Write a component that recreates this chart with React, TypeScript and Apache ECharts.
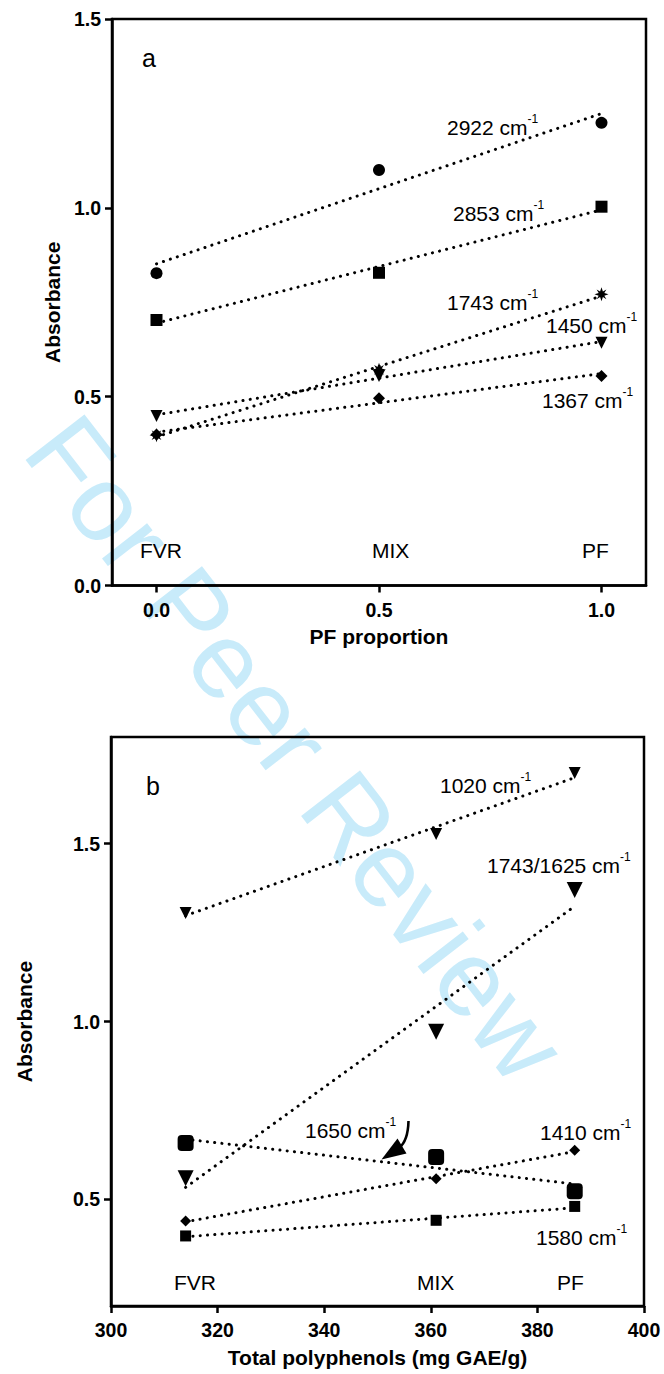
import React, { useEffect, useRef } from "react";
import * as echarts from "echarts";

// ---------- data (panel a) ----------
const pfProportion = [0, 0.5, 1.0];
const abs2922 = [0.827, 1.1, 1.225];
const abs2853 = [0.703, 0.828, 1.003];
const abs1743 = [0.398, 0.571, 0.771];
const abs1450 = [0.449, 0.555, 0.643];
const abs1367 = [0.4, 0.496, 0.555];
const topYTicks = [0, 0.5, 1.0, 1.5];
const topXTicks = [0, 0.5, 1.0];

// ---------- data (panel b) ----------
const polyphenols = [314, 361, 387];
const abs1020 = [1.305, 1.527, 1.699];
const abs1743_1625 = [0.559, 0.971, 1.37];
const abs1650 = [0.658, 0.619, 0.523];
const abs1410 = [0.439, 0.558, 0.638];
const abs1580 = [0.397, 0.441, 0.48];
const botYTicks = [0.5, 1.0, 1.5];

const sampleNames = ["FVR", "MIX", "PF"];

const FONT = "'Liberation Sans', Arial, Helvetica, sans-serif";
const STAR =
  "path://M10,0 L12,6 L17,3 L14,8 L20,10 L14,12 L17,17 L12,14 L10,20 L8,14 L3,17 L6,12 L0,10 L6,8 L3,3 L8,6 Z";

function fitLine(xs: number[], ys: number[]) {
  const n = xs.length;
  const mx = xs.reduce((a, b) => a + b, 0) / n;
  const my = ys.reduce((a, b) => a + b, 0) / n;
  let sxx = 0, sxy = 0;
  for (let i = 0; i < n; i++) {
    sxx += (xs[i] - mx) * (xs[i] - mx);
    sxy += (xs[i] - mx) * (ys[i] - my);
  }
  const b = sxy / sxx;
  const a = my - b * mx;
  return [
    [xs[0], a + b * xs[0]],
    [xs[n - 1], a + b * xs[n - 1]],
  ];
}

function pairs(xs: number[], ys: number[]) {
  return xs.map((x, i) => [x, ys[i]]);
}

function makeSeries(
  idx: number,
  xs: number[],
  ys: number[],
  symbol: string,
  size: number,
  rotate = 0
) {
  return [
    {
      type: "line",
      xAxisIndex: idx,
      yAxisIndex: idx,
      data: fitLine(xs, ys),
      showSymbol: false,
      symbol: "none",
      lineStyle: { color: "#000", width: 3, type: [0.1, 7.2], cap: "round" },
      z: 3,
      silent: true,
    },
    {
      type: "scatter",
      xAxisIndex: idx,
      yAxisIndex: idx,
      data: pairs(xs, ys),
      symbol,
      symbolSize: size,
      symbolRotate: rotate,
      itemStyle: { color: "#000", opacity: 1 },
      z: 4,
    },
  ];
}

function supLabel(main: string, sup: string, x: number, y: number) {
  return {
    type: "text",
    x,
    y,
    z: 10,
    style: {
      text: `{m|${main}}{s|${sup}}`,
      align: "left",
      verticalAlign: "middle",
      fill: "#000",
      rich: {
        m: { fontSize: 21, fontFamily: FONT, lineHeight: 28, fill: "#000" },
        s: { fontSize: 12, fontFamily: FONT, lineHeight: 12, verticalAlign: "top", fill: "#000" },
      },
    },
  };
}

function plainText(text: string, x: number, y: number, size = 21) {
  return {
    type: "text",
    x,
    y,
    z: 10,
    style: {
      text,
      fontSize: size,
      fontFamily: FONT,
      fill: "#000",
      align: "left",
      verticalAlign: "middle",
    },
  };
}

const axisLineStyle = { show: true, onZero: false, lineStyle: { color: "#000", width: 2.5 } };
const tickStyle = { show: true, length: 7, lineStyle: { color: "#000", width: 2.5 } };
const tickLabelStyle = {
  color: "#000",
  fontSize: 19.5,
  fontWeight: "bold",
  fontFamily: FONT,
};
const nameStyle = {
  color: "#000",
  fontSize: 21,
  fontWeight: "bold",
  fontFamily: FONT,
};

export default function App() {
  const ref = useRef<HTMLDivElement>(null);
  useEffect(() => {
    if (!ref.current) return;
    const chart = echarts.init(ref.current, null, { renderer: "svg" });
    const option: any = {
      animation: false,
      backgroundColor: "#fff",
      grid: [
        {
          left: 112,
          top: 19,
          width: 534,
          height: 566.5,
          show: true,
          borderColor: "#000",
          borderWidth: 2.5,
          backgroundColor: "transparent",
        },
        {
          left: 111,
          top: 737,
          width: 533,
          height: 569,
          show: true,
          borderColor: "#000",
          borderWidth: 2.5,
          backgroundColor: "transparent",
        },
      ],
      xAxis: [
        {
          type: "value",
          gridIndex: 0,
          min: -0.1,
          max: 1.1,
          axisLine: axisLineStyle,
          axisTick: { ...tickStyle, customValues: topXTicks },
          axisLabel: {
            ...tickLabelStyle,
            margin: 14,
            customValues: topXTicks,
            formatter: (v: number) => v.toFixed(1),
          },
          splitLine: { show: false },
          name: "PF proportion",
          nameLocation: "middle",
          nameGap: 40,
          nameTextStyle: nameStyle,
        },
        {
          type: "value",
          gridIndex: 1,
          min: 300,
          max: 400,
          interval: 20,
          axisLine: axisLineStyle,
          axisTick: tickStyle,
          axisLabel: { ...tickLabelStyle, margin: 14 },
          splitLine: { show: false },
          name: "Total polyphenols (mg GAE/g)",
          nameLocation: "middle",
          nameGap: 41,
          nameTextStyle: nameStyle,
        },
      ],
      yAxis: [
        {
          type: "value",
          gridIndex: 0,
          min: 0,
          max: 1.5,
          axisLine: axisLineStyle,
          axisTick: { ...tickStyle, customValues: topYTicks },
          axisLabel: {
            ...tickLabelStyle,
            margin: 11,
            customValues: topYTicks,
            formatter: (v: number) => v.toFixed(1),
          },
          splitLine: { show: false },
          name: "Absorbance",
          nameLocation: "middle",
          nameGap: 47,
          nameTextStyle: nameStyle,
        },
        {
          type: "value",
          gridIndex: 1,
          min: 0.2,
          max: 1.8,
          axisLine: axisLineStyle,
          axisTick: { ...tickStyle, customValues: botYTicks },
          axisLabel: {
            ...tickLabelStyle,
            margin: 11,
            customValues: botYTicks,
            formatter: (v: number) => v.toFixed(1),
          },
          splitLine: { show: false },
          name: "Absorbance",
          nameLocation: "middle",
          nameGap: 76,
          nameTextStyle: nameStyle,
        },
      ],
      series: [
        ...makeSeries(0, pfProportion, abs2922, "circle", 12),
        ...makeSeries(0, pfProportion, abs2853, "rect", 12),
        ...makeSeries(0, pfProportion, abs1450, "triangle", 12, 180),
        ...makeSeries(0, pfProportion, abs1367, "diamond", 12),
        ...makeSeries(0, pfProportion, abs1743, STAR, 14),
        ...makeSeries(1, polyphenols, abs1020, "triangle", 12, 180),
        ...makeSeries(1, polyphenols, abs1743_1625, "triangle", 16, 180),
        ...makeSeries(1, polyphenols, abs1650, "roundRect", 16),
        ...makeSeries(1, polyphenols, abs1410, "diamond", 11),
        ...makeSeries(1, polyphenols, abs1580, "rect", 11),
      ],
      graphic: [
        {
          type: "text",
          x: 296,
          y: 748,
          z: -10,
          rotation: (-52.3 * Math.PI) / 180,
          silent: true,
          style: {
            text: "For Peer Review",
            fontSize: 108,
            fontFamily: FONT,
            fill: "#c8ebfa",
            align: "center",
            verticalAlign: "middle",
          },
        },
        plainText("a", 142, 58, 25),
        plainText("b", 146, 786, 25),
        supLabel("2922 cm", "-1", 447, 127),
        supLabel("2853 cm", "-1", 453, 213),
        supLabel("1743 cm", "-1", 447, 302),
        supLabel("1450 cm", "-1", 546, 325),
        supLabel("1367 cm", "-1", 542, 400),
        plainText(sampleNames[0], 140, 550),
        plainText(sampleNames[1], 372, 550),
        plainText(sampleNames[2], 582, 550),
        supLabel("1020 cm", "-1", 440, 785),
        supLabel("1743/1625 cm", "-1", 487, 865),
        supLabel("1650 cm", "-1", 305, 1130),
        supLabel("1410 cm", "-1", 540, 1132),
        supLabel("1580 cm", "-1", 536, 1237),
        plainText(sampleNames[0], 174, 1282),
        plainText(sampleNames[1], 417, 1282),
        plainText(sampleNames[2], 557, 1282),
        {
          type: "bezierCurve",
          z: 10,
          shape: { x1: 408.5, y1: 1121, cpx1: 408, cpy1: 1141, x2: 399, y2: 1148 },
          style: { stroke: "#000", lineWidth: 2.6, fill: null },
        },
        {
          type: "polygon",
          z: 10,
          shape: {
            points: [
              [381.5, 1159.5],
              [397.5, 1138.5],
              [406.5, 1153.5],
            ],
          },
          style: { fill: "#000" },
        },
      ],
    };
    chart.setOption(option);
    return () => chart.dispose();
  }, []);
  return (
    <div
      ref={ref}
      style={{ position: "absolute", left: 0, top: 0, width: 664, height: 1374 }}
    />
  );
}
